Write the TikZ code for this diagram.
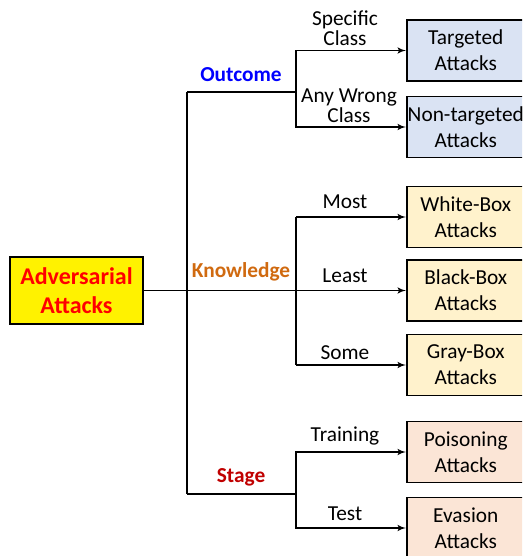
\documentclass[tikz,border=0pt]{standalone}
\usepackage{fontspec}
\setmainfont{Carlito}
\usepackage{xcolor}
\usepackage{tikz}
\usetikzlibrary{arrows}
\definecolor{outblue}{HTML}{0000FF}
\definecolor{knoworange}{HTML}{D06A10}
\definecolor{stagered}{HTML}{C00000}
\definecolor{boxblue}{HTML}{DAE3F3}
\definecolor{boxyellow}{HTML}{FFF2CC}
\definecolor{boxpeach}{HTML}{FBE5D6}
\tikzset{
    tnode/.style = {align=center, inner sep=0pt, text centered, font=\fontsize{16}{19.5}\selectfont},
    elabel/.style = {tnode, font=\fontsize{16}{15}\selectfont},
    cat/.style = {tnode, font=\fontsize{16}{19.5}\selectfont\bfseries},
    leaf/.style = {tnode, rectangle, draw=black, line width=1.2pt, minimum width=88.5pt, minimum height=45.5pt},
    root_node/.style = {leaf, fill=yellow, text=red, font=\fontsize{18}{21.75}\selectfont\bfseries, minimum width=99.75pt, minimum height=50pt, line width=1.4pt},
    blue_node/.style = {leaf, fill=boxblue},
    yellow_node/.style = {leaf, fill=boxyellow},
    peach_node/.style = {leaf, fill=boxpeach},
    link/.style = {line width=1.2pt, ->, >=latex'}
}

\begin{document}
\begin{tikzpicture}[x=0.75pt, y=-0.75pt]
    \useasboundingbox (0,0) rectangle (522,556);
    \begin{scope}
        \clip (0,0) rectangle (522,556);
        % root and leaves
        \node [root_node] (root) at (76.5,290.5) {Adversarial\\Attacks};
        \node [blue_node, anchor=west] (targeted) at (406,50.5) {Targeted\\Attacks};
        \node [blue_node, anchor=west] (nontargeted) at (406,127) {Non-targeted\\Attacks};
        \node [yellow_node, anchor=west] (white) at (406,217) {White-Box\\Attacks};
        \node [yellow_node, anchor=west] (black) at (406,290.5) {Black-Box\\Attacks};
        \node [yellow_node, anchor=west] (gray) at (406,365) {Gray-Box\\Attacks};
        \node [peach_node, anchor=west] (poisoning) at (406,452) {Poisoning\\Attacks};
        \node [peach_node, anchor=west] (evasion) at (406,528) {Evasion\\Attacks};

        % branch points
        \coordinate (trunk_top) at (187,92);
        \coordinate (trunk_bot) at (187,494);
        \coordinate (out_fork) at (296,92);
        \coordinate (stage_fork) at (296,494);
        \coordinate (know_top) at (296,217);
        \coordinate (know_bot) at (296,365);

        % categories
        \node [cat, text=outblue] (outcome) at (241,75) {Outcome};
        \node [cat, text=knoworange] (knowledge) at (241,272) {Knowledge};
        \node [cat, text=stagered] (stage) at (241,477) {Stage};

        % edge labels
        \node [elabel] (specific) at (345,28) {Specific\\Class};
        \node [elabel] (anywrong) at (349,106) {Any Wrong\\Class};
        \node [elabel] (most) at (345,202) {Most};
        \node [elabel] (least) at (345,276) {Least};
        \node [elabel] (some) at (345,353) {Some};
        \node [elabel] (training) at (345,436) {Training};
        \node [elabel] (test) at (345,514) {Test};

        % connectors
        \draw [line width=1.2pt] (trunk_top) -- (trunk_bot);
        \draw [line width=1.2pt] (trunk_top) -- (out_fork);
        \draw [line width=1.2pt] (trunk_bot) -- (stage_fork);
        \draw [link] (root) -- (black);
        \draw [link] (out_fork) |- (targeted);
        \draw [link] (out_fork) |- (nontargeted);
        \draw [link] (know_top) -- (white);
        \draw [line width=1.2pt] (know_top) -- (know_bot);
        \draw [link] (know_bot) -- (gray);
        \draw [link] (stage_fork) |- (poisoning);
        \draw [link] (stage_fork) |- (evasion);
    \end{scope}
\end{tikzpicture}
\end{document}
